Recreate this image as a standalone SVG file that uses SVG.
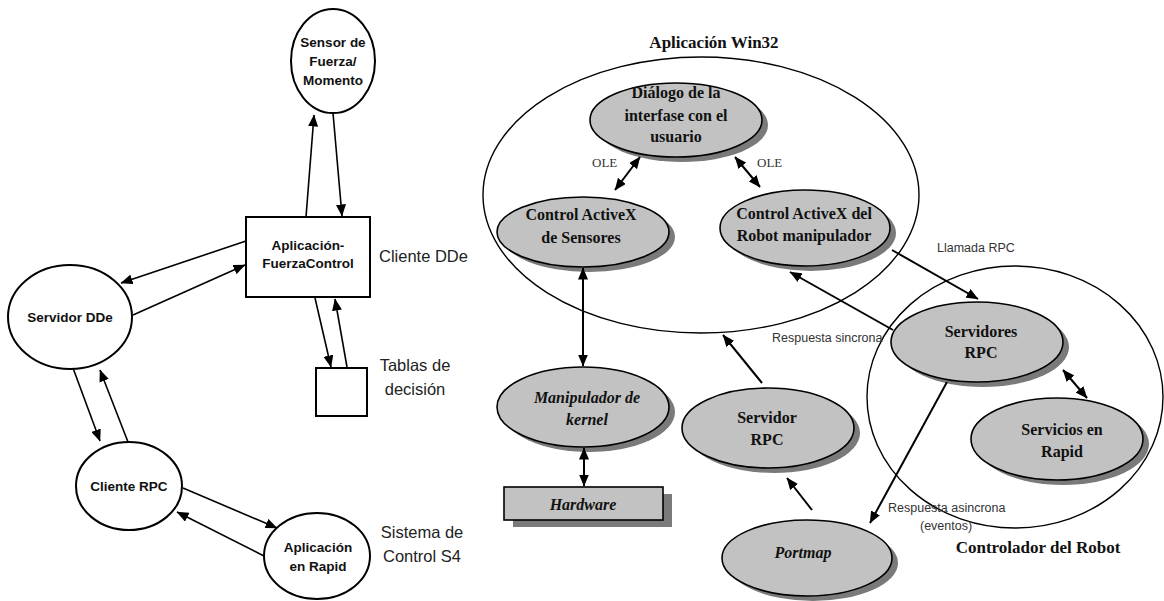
<svg xmlns="http://www.w3.org/2000/svg" width="1164" height="601" viewBox="0 0 1164 601">
<defs>
<style>
.ln{stroke:#000;stroke-width:1.6;fill:none}
.ln2{stroke:#000;stroke-width:2;fill:none}
.wn{fill:#fff;stroke:#000;stroke-width:2}
.gn{fill:#c2c2c2;stroke:#000;stroke-width:1.6}
.sh{fill:#7a7a7a}
.big{fill:none;stroke:#000;stroke-width:1.4}
.ls{font-family:"Liberation Sans",Arial,sans-serif;font-weight:bold;font-size:13.5px;text-anchor:middle;fill:#111}
.side{font-family:"Liberation Sans",Arial,sans-serif;font-size:16.5px;fill:#222}
.sr{font-family:"Liberation Serif","Times New Roman",serif;font-weight:bold;font-size:16px;text-anchor:middle;fill:#111}
.si{font-family:"Liberation Serif","Times New Roman",serif;font-style:italic;font-weight:bold;font-size:16px;text-anchor:middle;fill:#111}
.title{font-family:"Liberation Serif","Times New Roman",serif;font-weight:bold;font-size:17px;text-anchor:middle;fill:#111}
.ole{font-family:"Liberation Serif","Times New Roman",serif;font-size:13px;fill:#333}
.lab{font-family:"Liberation Sans",Arial,sans-serif;font-size:12.5px;fill:#333}
</style>
<marker id="ah" viewBox="0 0 12 10" refX="11.5" refY="5" markerWidth="12" markerHeight="10" orient="auto-start-reverse" markerUnits="userSpaceOnUse"><path d="M0,0 L12,5 L0,10 z" fill="#000"/></marker>
</defs>

<!-- Left diagram nodes -->
<g id="sensor">
<ellipse class="wn" cx="333" cy="61" rx="42" ry="52"/>
<text class="ls" x="333" y="47">Sensor de</text>
<text class="ls" x="333" y="66">Fuerza/</text>
<text class="ls" x="333" y="85">Momento</text>
</g>
<g id="app-fuerza">
<rect class="wn" x="246" y="217" width="124" height="80"/>
<text class="ls" x="308" y="250">Aplicación-</text>
<text class="ls" x="308" y="268">FuerzaControl</text>
</g>
<g id="servidor-dde">
<ellipse class="wn" cx="70" cy="317" rx="62" ry="52"/>
<text class="ls" x="70" y="322">Servidor DDe</text>
</g>
<g id="tablas">
<rect class="wn" x="316" y="368" width="51" height="48"/>
</g>
<g id="cliente-rpc">
<ellipse class="wn" cx="129" cy="486" rx="53" ry="44"/>
<text class="ls" x="129" y="491">Cliente RPC</text>
</g>
<g id="app-rapid">
<ellipse class="wn" cx="317" cy="556" rx="53" ry="43"/>
<text class="ls" x="318" y="552">Aplicación</text>
<text class="ls" x="318" y="571">en Rapid</text>
</g>
<g id="side-labels">
<text class="side" x="379" y="262">Cliente DDe</text>
<text class="side" x="415" y="371" text-anchor="middle">Tablas de</text>
<text class="side" x="415" y="395" text-anchor="middle">decisión</text>
<text class="side" x="422" y="538" text-anchor="middle">Sistema de</text>
<text class="side" x="422" y="562" text-anchor="middle">Control S4</text>
</g>

<!-- Right diagram containers -->
<g id="win32">
<ellipse class="big" cx="701" cy="195" rx="218" ry="138"/>
<text class="title" x="714" y="48">Aplicación Win32</text>
</g>
<g id="controlador">
<ellipse class="big" cx="1015" cy="397" rx="148" ry="131"/>
<text class="title" x="1038" y="553">Controlador del Robot</text>
</g>

<!-- Right diagram nodes -->
<g id="dialogo">
<ellipse class="sh" cx="682" cy="125" rx="86" ry="37"/>
<ellipse class="gn" cx="676" cy="120" rx="86" ry="37"/>
<text class="sr" x="676" y="98">Diálogo de la</text>
<text class="sr" x="676" y="121">interfase con el</text>
<text class="sr" x="676" y="142">usuario</text>
</g>
<g id="activex-sensores">
<ellipse class="sh" cx="589" cy="237" rx="86" ry="35"/>
<ellipse class="gn" cx="583" cy="232" rx="86" ry="35"/>
<text class="sr" x="581" y="220">Control ActiveX</text>
<text class="sr" x="581" y="243">de Sensores</text>
</g>
<g id="activex-robot">
<ellipse class="sh" cx="811" cy="233" rx="85" ry="38"/>
<ellipse class="gn" cx="805" cy="228" rx="85" ry="38"/>
<text class="sr" x="804" y="219">Control ActiveX del</text>
<text class="sr" x="804" y="241">Robot manipulador</text>
</g>
<g id="kernel">
<ellipse class="sh" cx="589" cy="412" rx="86" ry="40"/>
<ellipse class="gn" cx="583" cy="407" rx="86" ry="40"/>
<text class="si" x="587" y="403">Manipulador de</text>
<text class="si" x="587" y="425">kernel</text>
</g>
<g id="hardware">
<rect class="sh" x="513" y="494" width="159" height="33"/>
<rect class="gn" x="504" y="487" width="159" height="33"/>
<text class="si" x="583" y="510">Hardware</text>
</g>
<g id="servidor-rpc">
<ellipse class="sh" cx="774" cy="433" rx="86" ry="40"/>
<ellipse class="gn" cx="768" cy="428" rx="86" ry="40"/>
<text class="sr" x="767" y="423">Servidor</text>
<text class="sr" x="767" y="445">RPC</text>
</g>
<g id="portmap">
<ellipse class="sh" cx="813" cy="563" rx="85" ry="38"/>
<ellipse class="gn" cx="807" cy="558" rx="85" ry="38"/>
<text class="si" x="803" y="558">Portmap</text>
</g>
<g id="servidores-rpc">
<ellipse class="sh" cx="983" cy="347" rx="86" ry="40"/>
<ellipse class="gn" cx="977" cy="342" rx="86" ry="40"/>
<text class="sr" x="981" y="337">Servidores</text>
<text class="sr" x="981" y="358">RPC</text>
</g>
<g id="servicios-rapid">
<ellipse class="sh" cx="1063" cy="444" rx="86" ry="41"/>
<ellipse class="gn" cx="1057" cy="439" rx="86" ry="41"/>
<text class="sr" x="1062" y="435">Servicios en</text>
<text class="sr" x="1062" y="457">Rapid</text>
</g>

<!-- Connectors -->
<g id="connectors">
<line class="ln" x1="306" y1="217" x2="314" y2="115" marker-end="url(#ah)"/>
<line class="ln" x1="333" y1="113" x2="342" y2="216" marker-end="url(#ah)"/>
<line class="ln" x1="246" y1="241" x2="121" y2="283" marker-end="url(#ah)"/>
<line class="ln" x1="133" y1="315" x2="245" y2="265" marker-end="url(#ah)"/>
<line class="ln" x1="315" y1="298" x2="331" y2="367" marker-end="url(#ah)"/>
<line class="ln" x1="347" y1="367" x2="335" y2="299" marker-end="url(#ah)"/>
<line class="ln" x1="73" y1="368" x2="100" y2="441" marker-end="url(#ah)"/>
<line class="ln" x1="128" y1="442" x2="100" y2="370" marker-end="url(#ah)"/>
<line class="ln" x1="183" y1="488" x2="277" y2="528" marker-end="url(#ah)"/>
<line class="ln" x1="264" y1="556" x2="177" y2="512" marker-end="url(#ah)"/>

<line class="ln2" x1="640" y1="157" x2="615" y2="190" marker-start="url(#ah)" marker-end="url(#ah)"/>
<line class="ln2" x1="735" y1="157" x2="760" y2="187" marker-start="url(#ah)" marker-end="url(#ah)"/>
<line class="ln2" x1="583" y1="268" x2="583" y2="366" marker-start="url(#ah)" marker-end="url(#ah)"/>
<line class="ln2" x1="584" y1="448" x2="584" y2="486" marker-start="url(#ah)" marker-end="url(#ah)"/>
<line class="ln2" x1="762" y1="383" x2="723" y2="335" marker-end="url(#ah)"/>
<line class="ln2" x1="812" y1="510" x2="787" y2="478" marker-end="url(#ah)"/>
<line class="ln2" x1="892" y1="250" x2="978" y2="299" marker-end="url(#ah)"/>
<line class="ln2" x1="893" y1="330" x2="790" y2="272" marker-end="url(#ah)"/>
<line class="ln2" x1="947" y1="382" x2="870" y2="523" marker-end="url(#ah)"/>
<line class="ln2" x1="1063" y1="370" x2="1087" y2="398" marker-start="url(#ah)" marker-end="url(#ah)"/>

<text class="ole" x="592" y="167">OLE</text>
<text class="ole" x="757" y="167">OLE</text>
<text class="lab" x="937" y="252">Llamada RPC</text>
<text class="lab" x="772" y="342">Respuesta sincrona</text>
<text class="lab" x="888" y="512">Respuesta asincrona</text>
<text class="lab" x="920" y="530">(eventos)</text>
</g>
</svg>
